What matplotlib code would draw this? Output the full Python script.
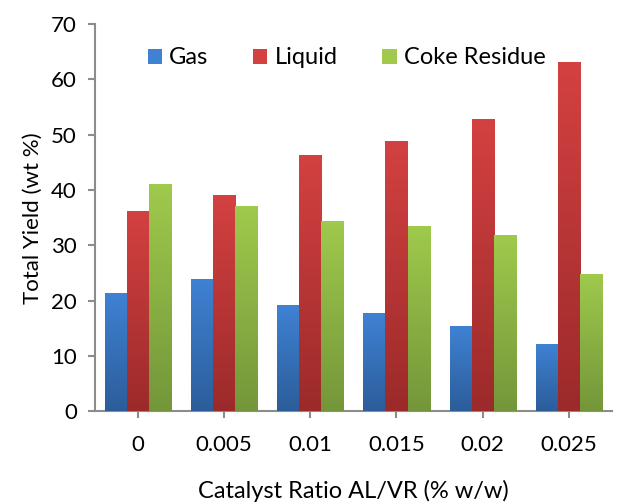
import numpy as np
import matplotlib.pyplot as plt
from matplotlib.colors import LinearSegmentedColormap

ratios = ['0', '0.005', '0.01', '0.015', '0.02', '0.025']
gas = [21.4, 24.0, 19.3, 17.8, 15.5, 12.2]
liquid = [36.2, 39.1, 46.3, 48.8, 52.8, 63.1]
coke = [41.1, 37.1, 34.4, 33.5, 31.9, 24.8]

series = ['Gas', 'Liquid', 'Coke Residue']
# (top colour, bottom colour) for the Excel-like gradient
shades = [('#3f82d4', '#2c5d9a'), ('#d44141', '#9c2a2a'), ('#9fca4c', '#74963a')]

plt.rcParams['font.family'] = ['Lato', 'DejaVu Sans']

fig = plt.figure(figsize=(6.2, 5.04), dpi=100)
ax = fig.add_axes([0.153, 0.184, 0.834, 0.768])

x = np.arange(len(ratios))
w = 0.256
grad = np.linspace(1, 0, 256).reshape(-1, 1)

for i, (name, vals) in enumerate(zip(series, [gas, liquid, coke])):
    top, bot = shades[i]
    cmap = LinearSegmentedColormap.from_list(name, [bot, top])
    bars = ax.bar(x + (i - 1) * w, vals, w, color=top, label=name, zorder=2)
    for b in bars:
        x0, y0 = b.get_x(), b.get_y()
        im = ax.imshow(grad, cmap=cmap, aspect='auto', zorder=3,
                       extent=[x0, x0 + b.get_width(), y0, y0 + b.get_height()])
        im.set_clip_path(b)

ax.set_xlim(-0.5, len(ratios) - 0.5)
ax.set_ylim(0, 70)
ax.set_yticks(range(0, 71, 10))
ax.set_xticks(x)
ax.set_xticklabels(ratios)

for s in ['top', 'right']:
    ax.spines[s].set_visible(False)
for s in ['left', 'bottom']:
    ax.spines[s].set_color('#8c8c8c')
    ax.spines[s].set_linewidth(1.5)
ax.tick_params(axis='both', colors='#8c8c8c', width=1.5, length=5,
               labelsize=16, labelcolor='black')
ax.tick_params(axis='x', pad=12)
ax.tick_params(axis='y', pad=8)

ax.set_ylabel('Total Yield (wt %)', fontsize=16, labelpad=6)
ax.set_xlabel('Catalyst Ratio AL/VR (% w/w)', fontsize=17, labelpad=18)

ax.legend(loc='upper center', bbox_to_anchor=(0.487, 0.995), ncol=3, frameon=False,
          fontsize=17, handlelength=0.6, handleheight=0.6, handletextpad=0.3,
          columnspacing=1.9)

fig.savefig('out.png', dpi=100)
